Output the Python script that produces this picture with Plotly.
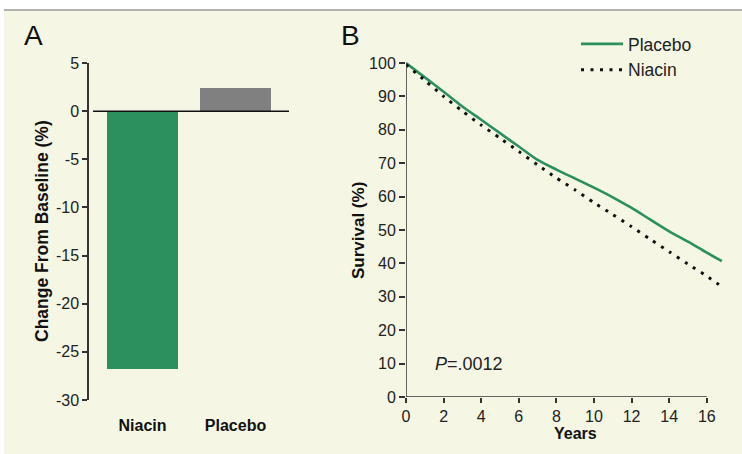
import plotly.graph_objects as go

# ---------------- data ----------------
groups = ["Niacin", "Placebo"]
change_pct = [-26.8, 2.4]

years = [0, 1, 2, 3, 4, 5, 6, 7, 8, 9, 10, 11, 12, 13, 14, 15, 16, 16.8]
placebo_surv = [100, 95.7, 91.4, 87.0, 83.0, 79.0, 75.0, 71.0, 68.1, 65.4, 62.7, 59.8, 56.6, 53.1, 49.6, 46.5, 43.2, 40.7]
niacin_surv = [99.5, 94.8, 90.0, 85.6, 81.4, 77.5, 73.5, 69.5, 65.6, 62.0, 58.2, 54.6, 51.0, 47.2, 43.5, 39.8, 36.2, 33.0]

y_ticks_a = [5, 0, -5, -10, -15, -20, -25, -30]
y_ticks_b = [0, 10, 20, 30, 40, 50, 60, 70, 80, 90, 100]
x_ticks_b = [0, 2, 4, 6, 8, 10, 12, 14, 16]

# ---------------- styling ----------------
W, H = 742, 454
BEIGE = "#F5F6E4"
GREEN = "#2B8F5E"
GRAY_BAR = "#808080"
AX = "#333333"
FONT = "Liberation Sans, Arial, sans-serif"


def fx(px):
    return px / W


def fy(py):
    return 1 - py / H


fig = go.Figure()

# Panel A bars
fig.add_trace(go.Bar(
    x=[0, 1], y=change_pct, width=0.763,
    marker=dict(color=[GREEN, GRAY_BAR], line=dict(width=0)),
    showlegend=False, xaxis="x", yaxis="y", hoverinfo="skip",
))

# Panel B curves
fig.add_trace(go.Scatter(
    x=years, y=placebo_surv, mode="lines", name="Placebo",
    line=dict(color=GREEN, width=2.6, shape="spline", smoothing=0.7),
    xaxis="x2", yaxis="y2",
))
fig.add_trace(go.Scatter(
    x=years, y=niacin_surv, mode="lines", name="Niacin",
    line=dict(color="#111111", width=3, dash="3px,6.5px", shape="spline", smoothing=0.6),
    xaxis="x2", yaxis="y2",
))

tick_font = dict(family=FONT, size=16, color="#222222")
common = dict(showgrid=False, zeroline=False, automargin=False)

fig.update_layout(
    template="none",
    width=W, height=H,
    margin=dict(l=0, r=0, t=0, b=0, pad=0, autoexpand=False),
    paper_bgcolor=BEIGE,
    plot_bgcolor="rgba(0,0,0,0)",
    font=dict(family=FONT, color="#222222"),
    bargap=0,
    xaxis=dict(
        domain=[fx(89), fx(289)], range=[-0.575, 1.575],
        tickvals=[0, 1], ticktext=["<b>%s</b>" % g for g in groups],
        tickfont=dict(family=FONT, size=16, color="#111111"),
        ticks="outside", ticklen=11, tickcolor="rgba(0,0,0,0)",
        showline=False, anchor="y", **common,
    ),
    yaxis=dict(
        domain=[fy(400), fy(63)], range=[-30, 5],
        tickvals=y_ticks_a, ticktext=[str(v) for v in y_ticks_a], tickfont=tick_font,
        ticks="outside", ticklen=5, tickwidth=1.5, tickcolor=AX,
        showline=True, linecolor=AX, linewidth=1.5, anchor="x", **common,
    ),
    xaxis2=dict(
        domain=[fx(406), fx(406 + 17.2 * 18.8)], range=[0, 17.2],
        tickvals=x_ticks_b, tickfont=tick_font,
        ticks="outside", ticklen=5, tickwidth=1.5, tickcolor=AX,
        showline=False, anchor="y2", **common,
    ),
    yaxis2=dict(
        domain=[fy(397), fy(397 - 102 * 3.34)], range=[0, 102],
        tickvals=y_ticks_b, tickfont=tick_font,
        ticks="outside", ticklen=6, tickwidth=1.5, tickcolor=AX,
        showline=False, anchor="x2", **common,
    ),
    legend=dict(
        x=fx(576), y=fy(26), xanchor="left", yanchor="top",
        bgcolor="rgba(0,0,0,0)", borderwidth=0,
        font=dict(family=FONT, size=17.5, color="#222222"),
        itemwidth=42, tracegroupgap=0,
    ),
    shapes=[
        # white strips outside the beige panel
        dict(type="rect", xref="paper", yref="paper", x0=0, x1=1, y0=fy(10), y1=1,
             fillcolor="white", line=dict(width=0), layer="below"),
        dict(type="rect", xref="paper", yref="paper", x0=0, x1=fx(4), y0=0, y1=1,
             fillcolor="white", line=dict(width=0), layer="below"),
        # top rule
        dict(type="line", xref="paper", yref="paper", x0=fx(4), x1=1, y0=fy(10), y1=fy(10),
             line=dict(color="#999999", width=1.5)),
        # zero line panel A
        dict(type="line", xref="x", yref="y", x0=-0.532, x1=1.575, y0=0, y1=0,
             line=dict(color="#111111", width=1.5)),
        # axis lines panel B
        dict(type="line", xref="x2", yref="y2", x0=0, x1=16, y0=0, y1=0,
             line=dict(color=AX, width=1.5)),
        dict(type="line", xref="x2", yref="y2", x0=0, x1=0, y0=0, y1=100,
             line=dict(color=AX, width=1.5)),
    ],
    annotations=[
        dict(text="A", xref="paper", yref="paper", x=fx(21.5), y=fy(36), xanchor="left", yanchor="middle",
             showarrow=False, font=dict(family=FONT, size=28, color="#111111")),
        dict(text="B", xref="paper", yref="paper", x=fx(339), y=fy(36), xanchor="left", yanchor="middle",
             showarrow=False, font=dict(family=FONT, size=28, color="#111111")),
        dict(text="<b>Change From Baseline (%)</b>", xref="paper", yref="paper", x=fx(42), y=fy(231),
             xanchor="center", yanchor="middle", textangle=-90, showarrow=False,
             font=dict(family=FONT, size=17.5, color="#111111")),
        dict(text="<b>Survival (%)</b>", xref="paper", yref="paper", x=fx(359), y=fy(231),
             xanchor="center", yanchor="middle", textangle=-90, showarrow=False,
             font=dict(family=FONT, size=17, color="#111111")),
        dict(text="<b>Years</b>", xref="paper", yref="paper", x=fx(575), y=fy(433),
             xanchor="center", yanchor="middle", showarrow=False,
             font=dict(family=FONT, size=16, color="#111111")),
        dict(text="<i>P</i>=.0012", xref="paper", yref="paper", x=fx(433), y=fy(364),
             xanchor="left", yanchor="middle", showarrow=False,
             font=dict(family=FONT, size=18, color="#222222")),
    ],
)

fig.write_html(
    "out.html",
    config={"displayModeBar": False},
    post_script="document.body.style.margin='0';document.body.style.padding='0';",
)
